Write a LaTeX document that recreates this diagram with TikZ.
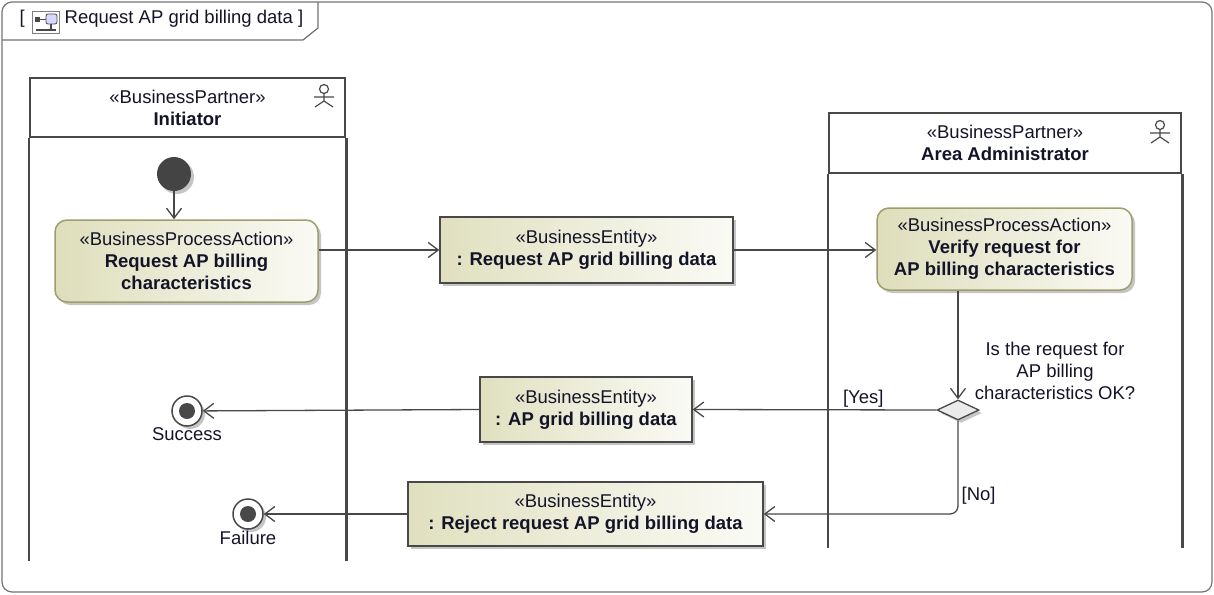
\documentclass[tikz,border=0pt]{standalone}
\usepackage{fontspec}
\setmainfont{Liberation Sans}
\usetikzlibrary{shapes}
\usetikzlibrary{arrows.meta}
\usetikzlibrary{shadows}

\definecolor{actfill}{RGB}{222,222,188}
\definecolor{objfill}{RGB}{224,224,192}
\definecolor{actline}{RGB}{158,158,108}
\definecolor{lineclr}{RGB}{72,72,72}
\definecolor{textclr}{RGB}{20,20,40}

\begin{document}
\begin{tikzpicture}[x=1pt,y=-1pt]
				\tikzstyle{every node}=[font=\fontsize{18.5}{22}\selectfont, text=textclr]
				\tikzstyle{lane}=[draw=lineclr, line width=2.5pt]
				\tikzstyle{lanehead}=[lane, rectangle, align=center, inner sep=0]
				\tikzstyle{shade}=[drop shadow={shadow xshift=3pt, shadow yshift=-3pt, fill=black!45, opacity=0.5}]
				\tikzstyle{action}=[rectangle, rounded corners=12pt, draw=actline, line width=1.5pt, left color=actfill, right color=actfill!15, align=center, inner sep=0, shade]
				\tikzstyle{entity}=[rectangle, draw=lineclr, line width=1.5pt, left color=objfill, right color=objfill!15, align=center, inner sep=0, shade]
				\tikzstyle{final}=[circle, draw=lineclr, fill=white, line width=1.5pt, minimum size=30, inner sep=0, shade, path picture={\fill[lineclr] (path picture bounding box.center) circle (8pt);}]
				\tikzstyle{flow}=[draw=lineclr, line width=1.3pt, -{Straight Barb[length=10pt,width=15pt]}]
				
				\useasboundingbox (0,0) rectangle (1214,594);
				\draw[black!55, line width=1.2pt, rounded corners=10pt] (2,2) rectangle (1212,592);
				\draw[black!55, line width=1.2pt] (2,40) -- (303,40) -- (318,28) -- (318,2);
				\node[anchor=west] (framelabel) at (16,19) {[\hspace{40pt}Request AP grid billing data ]};
				\draw[black!50, line width=1pt] (32,12) rectangle (59,34);
				\fill[lineclr] (35,17) rectangle (40,22);
				\draw[lineclr, line width=1.2pt] (40,19.5) -- (46,19.5) (51,24) -- (51,29) (36,30) -- (56,30);
				\draw[lineclr, fill=blue!15, line width=0.8pt, rounded corners=2pt] (46,14) rectangle (57,24);
				
				\node[lanehead, minimum width=315, minimum height=59] (initiator) at (187.5,107.5) {«BusinessPartner»\\\textbf{Initiator}};
				\draw[lane] (initiator.south west) -- ++(0,423);
				\draw[lane] (initiator.south east) -- ++(0,423);
				\draw[lineclr, line width=1.2pt] (324,89) circle (4.5) (324,93.5) -- (324,101) (314,97) -- (334,97) (315,107) -- (324,101) -- (333,107);
				
				\node[lanehead, minimum width=352, minimum height=60] (admin) at (1005,143) {«BusinessPartner»\\\textbf{Area Administrator}};
				\draw[lane] (admin.south west) -- ++(0,374);
				\draw[lane] (admin.south east) -- ++(0,374);
				\draw[lineclr, line width=1.2pt] (1160,125) circle (4.5) (1160,129.5) -- (1160,137) (1150,133) -- (1170,133) (1151,143) -- (1160,137) -- (1169,143);
				
				\node[circle, fill=lineclr!95!black, minimum size=34, inner sep=0, shade] (start) at (174,174) {};
				\node[action, minimum width=263, minimum height=82] (request) at (186.5,261) {«BusinessProcessAction»\\\textbf{Request AP billing}\\\textbf{characteristics}};
				\node[entity, minimum width=293, minimum height=66] (requestdata) at (586.5,250) {«BusinessEntity»\\\textbf{: Request AP grid billing data}};
				\node[action, minimum width=255, minimum height=82] (verify) at (1004.5,249) {«BusinessProcessAction»\\\textbf{Verify request for}\\\textbf{AP billing characteristics}};
				\node[diamond, draw=lineclr, fill=black!8, line width=1.3pt, minimum width=42, minimum height=20, aspect=2.1, inner sep=0, shade] (check) at (958,410) {};
				\node[align=center] (question) at (1055,371) {Is the request for\\AP billing\\characteristics OK?};
				\node[entity, minimum width=212, minimum height=65] (griddata) at (586,409.5) {«BusinessEntity»\\\textbf{: AP grid billing data}};
				\node[entity, minimum width=355, minimum height=64] (rejectdata) at (585.5,514) {«BusinessEntity»\\\textbf{: Reject request AP grid billing data}};
				\node[final, label={[inner sep=1pt]below:Success}] (success) at (187,411) {};
				\node[final, label={[inner sep=1pt]below:Failure}] (failure) at (248,514) {};
				
				\draw[flow] (start) -- (start |- request.north);
				\draw[flow] (request.east |- requestdata.west) -- (requestdata.west);
				\draw[flow] (requestdata.east) -- (verify.west |- requestdata.east);
				\draw[flow] (verify.south -| check.north) -- (check.north);
				\draw[flow] (check.west) -- node[above, pos=0.3, inner sep=2pt] {[Yes]} (griddata.east);
				\draw[flow, rounded corners=8pt] (check.south) |- node[right, pos=0.4, inner sep=3pt] {[No]} (rejectdata.east);
				\draw[flow] (griddata.west) -- (success);
				\draw[flow] (rejectdata.west) -- (failure);
				
				\end{tikzpicture}
\end{document}
